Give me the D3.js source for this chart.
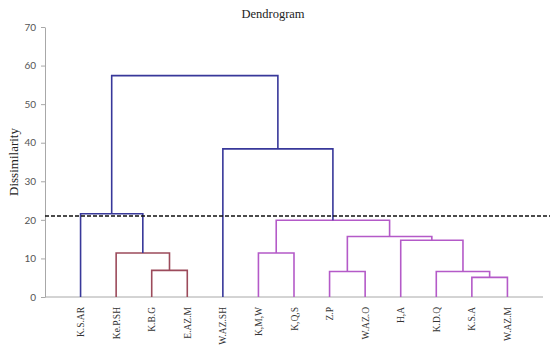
<!DOCTYPE html>
<html>
<head>
<meta charset="utf-8">
<script src="https://cdn.jsdelivr.net/npm/d3@7"></script>
<style>
  body { margin: 0; background: #fff; }
  #chart { width: 550px; height: 354px; }
</style>
</head>
<body>
<div id="chart"></div>
<script>
// leaves in dendrogram order
const leaves = ["K.S.AR", "Ke.P.SH", "K.B.G", "E.AZ.M", "W.AZ.SH", "K,M,W", "K,Q,S",
  "Z.P", "W.AZ.O", "H,A", "K.D.Q", "K.S.A", "W.AZ.M"];

// merges: [childA, childB, height]; ids >= leaves.length refer to earlier merges
const merges = [
  [2, 3, 6.9],    // 13
  [11, 12, 5.1],  // 14
  [7, 8, 6.6],    // 15
  [10, 14, 6.6],  // 16
  [5, 6, 11.4],   // 17
  [1, 13, 11.4],  // 18
  [9, 16, 14.7],  // 19
  [15, 19, 15.7], // 20
  [17, 20, 19.9], // 21
  [0, 18, 21.6],  // 22
  [4, 21, 38.4],  // 23
  [22, 23, 57.4]  // 24
];

const cutoff = 21;
const yTicks = [0, 10, 20, 30, 40, 50, 60, 70];

////////////////////////////  Init  ///////////////////////////////
const width = 550, height = 354;
const margin = { top: 27, right: 7, bottom: 57, left: 45 };
const topColor = "#38389a";
const clusterColors = ["#9c4b5b", "#b45ac8"];

const svg = d3.select("#chart").append("svg")
  .attr("width", width).attr("height", height);

const xScale = d3.scalePoint()
  .domain(leaves)
  .range([margin.left, width - margin.right])
  .padding(1);

const yScale = d3.scaleLinear()
  .domain([0, 70])
  .range([height - margin.bottom, margin.top]);

// node positions
const n = leaves.length;
const nodes = leaves.map(d => ({ x: xScale(d), h: 0 }));
merges.forEach(([a, b, h]) => {
  nodes.push({ x: (nodes[a].x + nodes[b].x) / 2, h, a, b });
});

// colour: merges above cutoff are blue, each cluster below gets its own colour
const colorOf = new Map();
let ci = 0;
function paint(id, col) {
  const nd = nodes[id];
  if (id < n) return;
  let c = col;
  if (!c && nd.h < cutoff) c = clusterColors[ci++ % clusterColors.length];
  colorOf.set(id, c || topColor);
  paint(nd.a, c);
  paint(nd.b, c);
}
paint(nodes.length - 1, null);

// axes
svg.append("g")
  .attr("transform", `translate(${margin.left},0)`)
  .call(d3.axisLeft(yScale).tickValues(yTicks).tickSize(4).tickPadding(5).tickSizeOuter(0))
  .call(g => g.select(".domain").attr("stroke", "#a8a8a8"))
  .call(g => g.selectAll(".tick line").attr("stroke", "#a8a8a8"))
  .call(g => g.selectAll("text").attr("fill", "#555")
    .style("font-family", "Lato, 'Open Sans', sans-serif").style("font-size", "10px"));

svg.append("line")
  .attr("x1", margin.left).attr("x2", width - margin.right)
  .attr("y1", yScale(0)).attr("y2", yScale(0))
  .attr("stroke", "#a8a8a8");

// dendrogram links
const links = svg.append("g").attr("fill", "none").attr("stroke-width", 1.6);
nodes.forEach((nd, id) => {
  if (id < n) return;
  const A = nodes[nd.a], B = nodes[nd.b];
  const p = `M${A.x},${yScale(A.h)}V${yScale(nd.h)}H${B.x}V${yScale(B.h)}`;
  links.append("path").attr("d", p).attr("stroke", colorOf.get(id));
});

// cut line
svg.append("line")
  .attr("x1", margin.left).attr("x2", width)
  .attr("y1", yScale(cutoff)).attr("y2", yScale(cutoff))
  .attr("stroke", "#111").attr("stroke-width", 1.5)
  .attr("stroke-dasharray", "4,2");

// leaf labels
svg.append("g").selectAll("text")
  .data(leaves)
  .join("text")
  .attr("transform", d => `translate(${xScale(d) + 3.5},${yScale(0) + 10}) rotate(-90)`)
  .attr("text-anchor", "end")
  .attr("fill", "#333")
  .style("font-family", "'Liberation Serif', 'Times New Roman', serif")
  .style("font-size", "9.5px")
  .text(d => d);

// titles
svg.append("text")
  .attr("x", 273).attr("y", 18)
  .attr("text-anchor", "middle")
  .attr("fill", "#222")
  .style("font-family", "'Liberation Serif', 'Times New Roman', serif")
  .style("font-size", "12.5px")
  .text("Dendrogram");

svg.append("text")
  .attr("transform", `translate(18,${(yScale(0) + yScale(70)) / 2}) rotate(-90)`)
  .attr("text-anchor", "middle")
  .attr("fill", "#222")
  .style("font-family", "'Liberation Serif', 'Times New Roman', serif")
  .style("font-size", "13px")
  .text("Dissimilarity");
</script>
</body>
</html>
